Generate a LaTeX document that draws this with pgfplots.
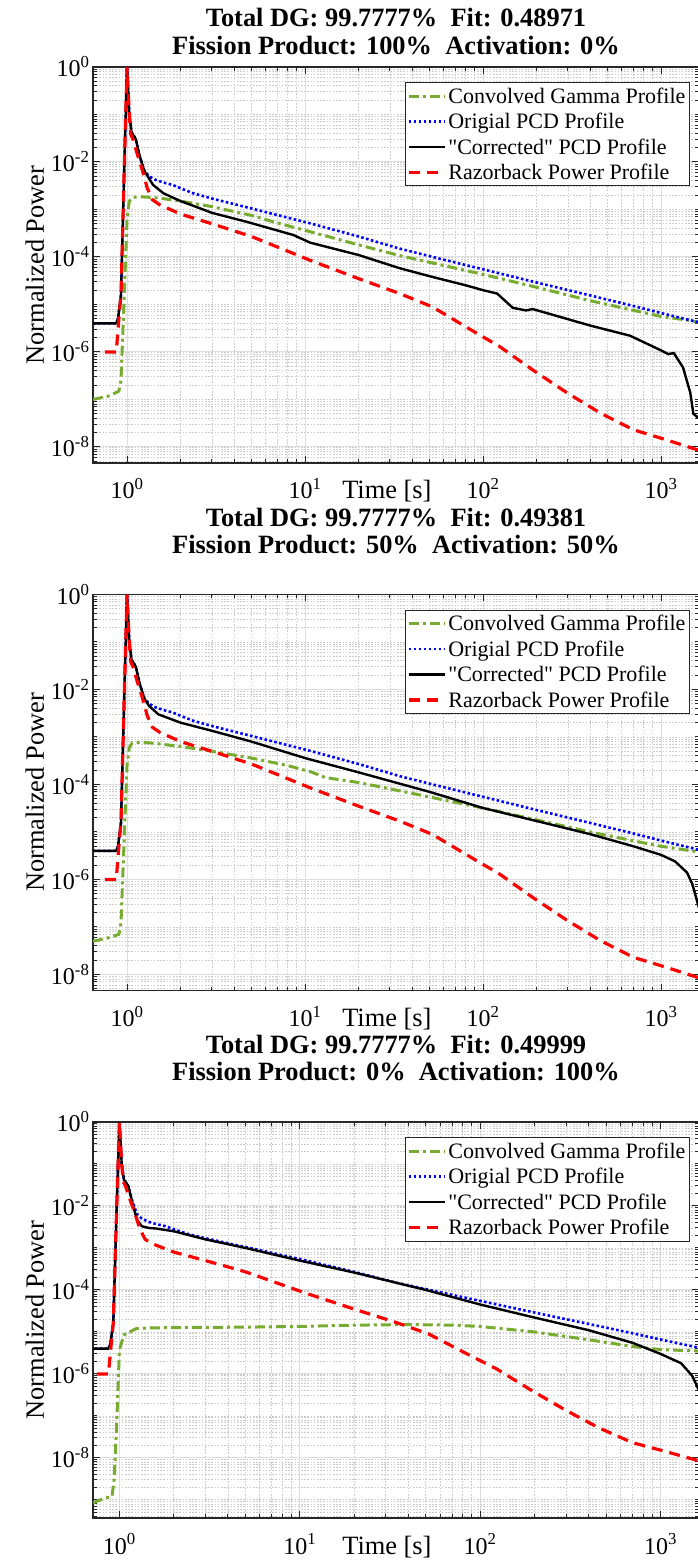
\documentclass[border=0pt]{standalone}
\usepackage{fontspec}
\setmainfont{Liberation Serif}
\usepackage{pgfplots}
\usepackage{pgfplotstable}
\pgfplotsset{compat=1.18}
\definecolor{mgreen}{HTML}{77AC30}
\definecolor{axisgray}{HTML}{262626}
\newcommand\tickfont{\fontsize{24}{26}\selectfont}
\newcommand\labfont{\fontsize{26.4}{28}\selectfont}
\newcommand\legfont{\fontsize{22}{23}\selectfont}
\newcommand\titlefont{\fontsize{26.4}{28}\selectfont\bfseries}
\newcommand\sx[1]{10\textsuperscript{#1}}

% measured detector profile (same in every panel)
\pgfplotstableread{
t P
0.644 4e-6
0.87 4e-6
0.89 5e-6
0.925 1.6e-5
0.967 1e-2
1.0 1
1.03 0.1
1.06 4.2e-2
1.09 3.6e-2
1.12 3e-2
1.18 1.3e-2
1.25 6.5e-3
1.33 5e-3
1.45 4.2e-3
1.6 3.7e-3
1.8 3.3e-3
2.0 2.8e-3
2.35 2.2e-3
3 1.7e-3
5 1.05e-3
10.7 5.1e-4
20 2.7e-4
34 1.5e-4
60 8.8e-5
100 5.5e-5
200 2.9e-5
400 1.55e-5
700 9.3e-6
1000 6.6e-6
1635 4.2e-6
}\bluetab
% reactor power profile (same in every panel)
\pgfplotstableread{
t P
0.75 1e-6
0.87 1e-6
0.9 5e-6
0.925 1.6e-5
0.967 1e-2
1.0 1
1.03 0.1
1.05 3.8e-2
1.08 3e-2
1.14 1.5e-2
1.22 6.7e-3
1.3 2.8e-3
1.39 1.6e-3
1.53 1.25e-3
2 8e-4
3 5e-4
5 2.7e-4
10.7 8.5e-5
20 3.5e-5
34 1.7e-5
52 8.9e-6
81 3.3e-6
124 1.3e-6
190 4.2e-7
295 1.4e-7
455 5.2e-8
700 2.3e-8
1080 1.4e-8
1635 8.5e-9
}\redtab

\pgfplotsset{
  scale only axis, width=606pt, height=396pt,
  xmax=1635, ymax=1,
  xtick={1,10,100,1000}, xticklabels={\sx{0},\sx{1},\sx{2},\sx{3}},
  ytick={1e-8,1e-6,1e-4,1e-2,1}, yticklabels={\sx{-8},\sx{-6},\sx{-4},\sx{-2},\sx{0}},
  minor ytick={1e-10,2e-10,3e-10,4e-10,5e-10,6e-10,7e-10,8e-10,9e-10,
    1e-9,2e-9,3e-9,4e-9,5e-9,6e-9,7e-9,8e-9,9e-9,
    1e-8,2e-8,3e-8,4e-8,5e-8,6e-8,7e-8,8e-8,9e-8,
    1e-7,2e-7,3e-7,4e-7,5e-7,6e-7,7e-7,8e-7,9e-7,
    1e-6,2e-6,3e-6,4e-6,5e-6,6e-6,7e-6,8e-6,9e-6,
    1e-5,2e-5,3e-5,4e-5,5e-5,6e-5,7e-5,8e-5,9e-5,
    1e-4,2e-4,3e-4,4e-4,5e-4,6e-4,7e-4,8e-4,9e-4,
    1e-3,2e-3,3e-3,4e-3,5e-3,6e-3,7e-3,8e-3,9e-3,
    1e-2,2e-2,3e-2,4e-2,5e-2,6e-2,7e-2,8e-2,9e-2,
    0.1,0.2,0.3,0.4,0.5,0.6,0.7,0.8,0.9},
  grid=both, major grid style={black!13, line width=1pt},
  minor grid style={black!20, line width=0.8pt, dash pattern=on 1.6pt off 1.6pt},
  axis line style={axisgray, line width=1.3pt},
  tick style={axisgray, line width=1pt}, major tick length=7pt, minor tick length=4pt,
  tick label style={font=\tickfont},
  xticklabel style={anchor=base, yshift=-36pt},
  label style={font=\labfont},
  xlabel style={at={(axis description cs:0.485,0)}, anchor=base, yshift=-36pt},
  legend cell align=left,
  legend style={at={(0.985,0.962)}, anchor=north east, font=\legfont, draw=axisgray, line width=1pt,
    inner xsep=2pt, inner ysep=3pt, row sep=4.5pt},
  legend image code/.code={\draw[#1] (0pt,0pt) -- (36pt,0pt);},
  gam/.style={color=mgreen, line width=3pt, dash pattern=on 10pt off 4pt on 3pt off 4pt},
  pcd/.style={color=blue, line width=2.6pt, dash pattern=on 2.6pt off 2.4pt},
  cor/.style={color=black, line width=2.4pt, line join=round},
  rzb/.style={color=red, line width=3.2pt, dash pattern=on 11pt off 7pt},
}

\begin{document}
\begin{tikzpicture}
\useasboundingbox (0pt,0pt) rectangle (697pt,1568pt);
% ---------- panel 1 ----------
\begin{loglogaxis}[at={(93pt,1105pt)}, anchor=south west, xmin=0.644, ymin=4.6e-9,
  xlabel={Time [s]}, ylabel={Normalized Power}]
\addplot[gam] coordinates {(0.644,1e-7) (0.8,1.2e-7) (0.9,1.5e-7) (0.925,2.5e-7) (0.967,2e-5) (1.0,6e-4) (1.03,1.5e-3) (1.07,1.8e-3) (1.2,1.85e-3) (1.5,1.75e-3) (2,1.5e-3) (3,1.15e-3) (5,7.5e-4) (7,5.2e-4) (10.7,3.4e-4) (20,1.8e-4) (34,1.07e-4) (100,4.3e-5) (200,2.3e-5) (400,1.2e-5) (1000,5.6e-6) (1460,4.6e-6) (1635,4.2e-6)};
\addlegendentry{Convolved Gamma Profile}
\addplot[pcd] table {\bluetab};
\addlegendentry{Origial PCD Profile}
\addplot[cor] coordinates {(0.644,4e-6) (0.87,4e-6) (0.89,5e-6) (0.925,1.6e-5) (0.967,1e-2) (1.0,1) (1.03,0.1) (1.06,4.2e-2) (1.09,3.6e-2) (1.12,3e-2) (1.18,1.3e-2) (1.25,6.5e-3) (1.33,4.5e-3) (1.4,3.3e-3) (1.6,2.2e-3) (2,1.5e-3) (2.35,1.2e-3) (3,8.5e-4) (4.7,5.5e-4) (8.6,2.9e-4) (10.7,2e-4) (20,1.1e-4) (34,5.8e-5) (52,3.8e-5) (81,2.5e-5) (100,2e-5) (120,1.7e-5) (147,8.5e-6) (174,7.5e-6) (190,8e-6) (238,6.3e-6) (400,3.6e-6) (670,2.2e-6) (990,1.1e-6) (1100,9e-7) (1180,9.5e-7) (1330,4.7e-7) (1460,1.4e-7) (1520,5e-8) (1635,4e-8)};
\addlegendentry{\textquotedbl Corrected\textquotedbl{} PCD Profile}
\addplot[rzb] table {\redtab};
\addlegendentry{Razorback Power Profile}
\end{loglogaxis}
\node[anchor=base, font=\titlefont] at (396pt,1541pt) {Total DG: 99.7777\%\ \ Fit: 0.48971};
\node[anchor=base, font=\titlefont] at (396pt,1513pt) {Fission Product: 100\%\ \ Activation: 0\%};
% ---------- panel 2 ----------
\begin{loglogaxis}[at={(93pt,577.5pt)}, anchor=south west, xmin=0.644, ymin=4.6e-9,
  xlabel={Time [s]}, ylabel={Normalized Power}]
\addplot[gam] coordinates {(0.644,5e-8) (0.8,6e-8) (0.9,7e-8) (0.925,1.2e-7) (0.967,1e-5) (1.0,2.5e-4) (1.03,6e-4) (1.07,7.5e-4) (1.2,7.8e-4) (1.5,7.2e-4) (2,6.3e-4) (3,5e-4) (5,3.6e-4) (8,2.5e-4) (11,1.8e-4) (13,1.4e-4) (20,1.1e-4) (40,6.5e-5) (70,4.2e-5) (100,3.2e-5) (200,1.8e-5) (400,1e-5) (700,6.5e-6) (1000,5e-6) (1635,3.8e-6)};
\addlegendentry{Convolved Gamma Profile}
\addplot[pcd] table {\bluetab};
\addlegendentry{Origial PCD Profile}
\addplot[cor] coordinates {(0.644,4e-6) (0.87,4e-6) (0.89,5e-6) (0.925,1.6e-5) (0.967,1e-2) (1.0,1) (1.03,0.1) (1.06,4.2e-2) (1.09,3.6e-2) (1.12,3e-2) (1.18,1.3e-2) (1.25,6.5e-3) (1.33,4.5e-3) (1.5,3e-3) (2,2e-3) (3,1.35e-3) (5,8e-4) (10,3.6e-4) (20,1.8e-4) (50,7e-5) (100,3.2e-5) (200,1.7e-5) (400,9e-6) (700,5e-6) (1000,3.3e-6) (1200,2.4e-6) (1400,1.4e-6) (1500,8e-7) (1635,2.5e-7)};
\addlegendentry{\textquotedbl Corrected\textquotedbl{} PCD Profile}
\addplot[rzb] table {\redtab};
\addlegendentry{Razorback Power Profile}
\end{loglogaxis}
\node[anchor=base, font=\titlefont] at (396pt,1041.5pt) {Total DG: 99.7777\%\ \ Fit: 0.49381};
\node[anchor=base, font=\titlefont] at (396pt,1014.5pt) {Fission Product: 50\%\ \ Activation: 50\%};
% ---------- panel 3 ----------
\begin{loglogaxis}[at={(93pt,50pt)}, anchor=south west, xmin=0.714, ymin=3.7e-10,
  xlabel={Time [s]}, ylabel={Normalized Power}]
\addplot[gam] coordinates {(0.714,8.5e-10) (0.83,1.1e-9) (0.91,1.2e-9) (0.935,3e-9) (0.967,6.8e-8) (1.0,3.7e-6) (1.06,8.5e-6) (1.24,1.2e-5) (1.5,1.25e-5) (2,1.27e-5) (5,1.3e-5) (10,1.35e-5) (20,1.45e-5) (40,1.5e-5) (70,1.45e-5) (100,1.35e-5) (200,1e-5) (400,6.5e-6) (700,4.5e-6) (1000,3.8e-6) (1635,3.5e-6)};
\addlegendentry{Convolved Gamma Profile}
\addplot[pcd] table {\bluetab};
\addlegendentry{Origial PCD Profile}
\addplot[cor] coordinates {(0.644,4e-6) (0.87,4e-6) (0.89,5e-6) (0.925,1.6e-5) (0.967,1e-2) (1.0,1) (1.03,0.1) (1.06,4.2e-2) (1.09,3.6e-2) (1.12,3e-2) (1.18,1.2e-2) (1.25,4.7e-3) (1.33,3.3e-3) (1.45,3e-3) (1.6,2.9e-3) (2,2.5e-3) (3,1.6e-3) (5,1e-3) (10,5e-4) (20,2.6e-4) (50,1e-4) (100,4.5e-5) (200,2.2e-5) (400,1.1e-5) (700,5.5e-6) (1000,3e-6) (1300,1.8e-6) (1500,9e-7) (1635,4e-7)};
\addlegendentry{\textquotedbl Corrected\textquotedbl{} PCD Profile}
\addplot[rzb] table {\redtab};
\addlegendentry{Razorback Power Profile}
\end{loglogaxis}
\node[anchor=base, font=\titlefont] at (396pt,514pt) {Total DG: 99.7777\%\ \ Fit: 0.49999};
\node[anchor=base, font=\titlefont] at (396pt,487pt) {Fission Product: 0\%\ \ Activation: 100\%};
\end{tikzpicture}
\end{document}
